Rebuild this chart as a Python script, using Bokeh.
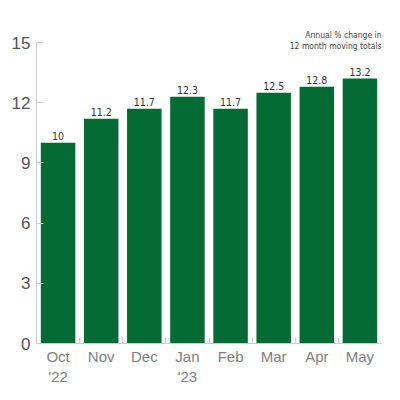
from bokeh.plotting import figure
from bokeh.models import ColumnDataSource, FixedTicker, LabelSet, Title
from bokeh.core.properties import value
from bokeh.embed import file_html
from bokeh.resources import INLINE

months = ["Oct\n'22", "Nov", "Dec", "Jan\n'23", "Feb", "Mar", "Apr", "May"]
values = [10, 11.2, 11.7, 12.3, 11.7, 12.5, 12.8, 13.2]
y_ticks = [0, 3, 6, 9, 12, 15]
note_lines = ["Annual % change in", "12 month moving totals"]

xs = list(range(len(months)))
source = ColumnDataSource(dict(x=xs, top=values, label=[str(v) for v in values]))

p = figure(width=400, height=400, output_backend="svg", toolbar_location=None, tools="",
           x_range=(-0.5, len(months) - 0.5), y_range=(0, 15),
           min_border_left=36, min_border_right=19, min_border_top=42, min_border_bottom=57)
p.outline_line_color = None
p.grid.grid_line_color = None

narrow = "DejaVu Sans Condensed"

# note, right aligned, top right corner (one title per line)
for i, line in enumerate(reversed(note_lines)):
    t = Title(text=line, align="right", text_font=narrow, text_font_size="8.5px",
              text_font_style="normal", text_color="#444444",
              standoff=-16 if i == 0 else 5, offset=0)
    p.add_layout(t, "above")

p.vbar(x="x", top="top", width=0.8, bottom=0, source=source,
       fill_color="#036b33", line_color=None)

labels = LabelSet(x="x", y="top", text="label", source=source, text_align="center",
                  text_baseline="bottom", y_offset=3, text_font_size="10.5px",
                  text_color="#333333", text_font=value(narrow))
p.add_layout(labels)

# x axis: labels at bar centres, small ticks between bars
p.xaxis.ticker = FixedTicker(ticks=xs, minor_ticks=[i + 0.5 for i in xs[:-1]])
p.xaxis.major_label_overrides = {i: m for i, m in enumerate(months)}
p.xaxis.major_tick_in = 0
p.xaxis.major_tick_out = 0
p.xaxis.minor_tick_in = 6
p.xaxis.minor_tick_out = 0
p.xaxis.minor_tick_line_color = "#cccccc"
p.xaxis.axis_line_color = "#cccccc"
p.xaxis.major_label_text_color = "#808080"
p.xaxis.major_label_text_font_size = "15px"
p.xaxis.major_label_text_font = "Liberation Sans"
p.xaxis.major_label_standoff = 4

p.yaxis.ticker = FixedTicker(ticks=y_ticks)
p.yaxis.major_tick_in = 7
p.yaxis.major_tick_out = 0
p.yaxis.minor_tick_line_color = None
p.yaxis.major_tick_line_color = "#cccccc"
p.yaxis.axis_line_color = "#cccccc"
p.yaxis.major_label_text_color = "#555555"
p.yaxis.major_label_text_font_size = "17px"
p.yaxis.major_label_text_font = "Liberation Sans"
p.yaxis.major_label_standoff = 6

open("out.html", "w").write(file_html(p, INLINE))
